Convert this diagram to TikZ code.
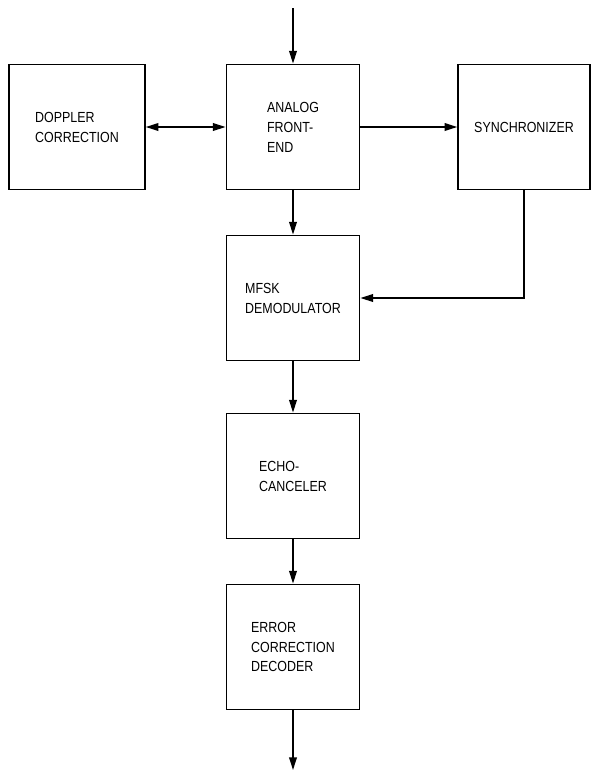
\documentclass[tikz,border=0pt]{standalone}
\usepackage{fontspec}
\setmainfont[FakeStretch=0.85]{Liberation Sans}
\usetikzlibrary{arrows.meta}

\begin{document}
\begin{tikzpicture}[x=0.03cm,y=-0.03cm,
    >={Triangle[length=3.8mm,width=2.3mm]},
    every path/.style={line width=1.3pt},
    blk/.style={draw,line width=1.3pt,minimum width=4cm,minimum height=3.76cm,
      align=left,font=\fontsize{12.5}{17}\selectfont}]
  \useasboundingbox (0,0) rectangle (592,773);
  % blocks
  \node[blk,minimum width=4.08cm] (dop) at (77,127) {DOPPLER\\CORRECTION};
  \node[blk] (afe) at (293,127) {ANALOG\\FRONT-\\END};
  \node[blk,minimum width=3.96cm] (sync) at (524,127) {SYNCHRONIZER};
  \node[blk] (mfsk) at (293,298) {MFSK\\DEMODULATOR};
  \node[blk] (echo) at (293,476) {ECHO-\\CANCELER};
  \node[blk] (ecd) at (293,647) {ERROR\\CORRECTION\\DECODER};
  \coordinate (in) at (293,8);
  \coordinate (out) at (293,770);
  % connections
  \draw[->] (in) -- (afe);
  \draw[<->] (dop) -- (afe);
  \draw[->] (afe) -- (sync);
  \draw[->] (afe) -- (mfsk);
  \draw[->] (sync.south) |- (mfsk.east);
  \draw[->] (mfsk) -- (echo);
  \draw[->] (echo) -- (ecd);
  \draw[->] (ecd) -- (out);
\end{tikzpicture}
\end{document}
